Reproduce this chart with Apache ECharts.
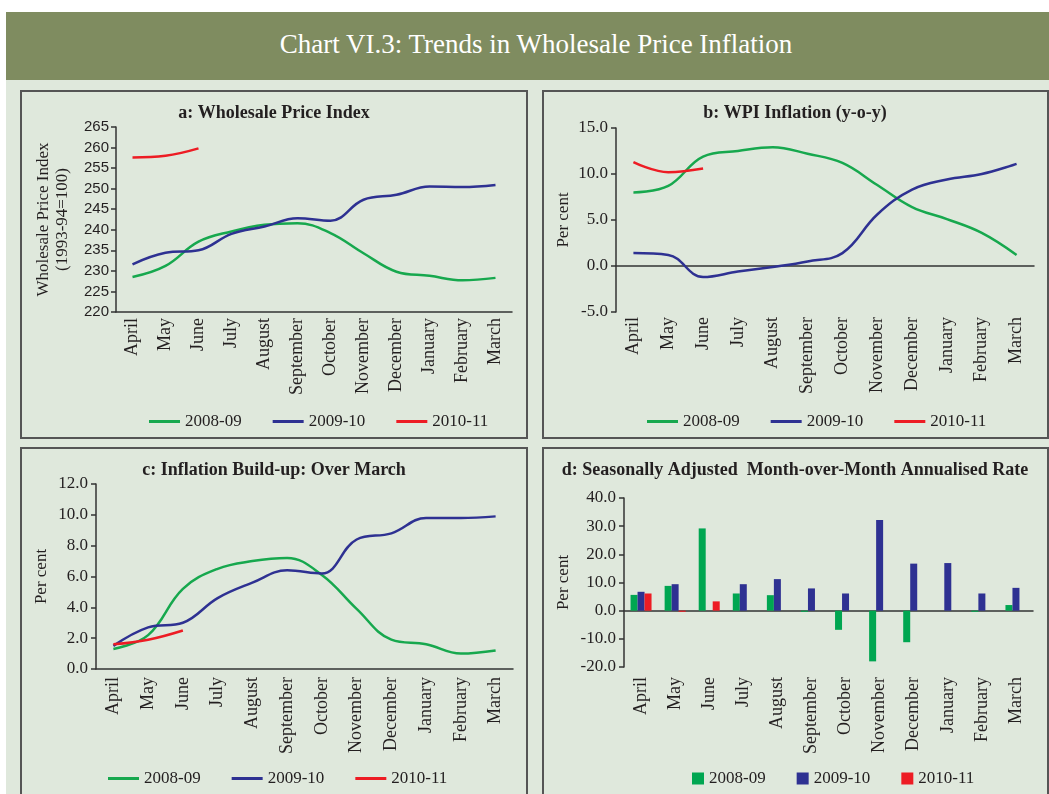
<!DOCTYPE html>
<html>
<head>
<meta charset="utf-8">
<script src="https://cdn.jsdelivr.net/npm/echarts@6/dist/echarts.min.js"></script>
<style>
  html, body { margin: 0; padding: 0; background: #fff; width: 1049px; height: 794px; overflow: hidden; }
  #bg { position: absolute; left: 6px; top: 80px; width: 1043px; height: 714px; background: #dfe8dc; }
  #head { position: absolute; left: 6px; top: 12px; width: 1043px; height: 68px; background: #7f8c60; }
  #head span { position: absolute; left: 0; width: 1060px; top: 17px; text-align: center; color: #fff;
    font: 27px "Liberation Serif", serif; }
  .panel { position: absolute; border: 2px solid #555; box-sizing: border-box; }
  #chart { position: absolute; left: 0; top: 0; width: 1049px; height: 794px; }
</style>
</head>
<body>
<div id="bg"></div>
<div id="head"><span>Chart VI.3: Trends in Wholesale Price Inflation</span></div>
<div class="panel" style="left:20px;top:90px;width:508px;height:349px"></div>
<div class="panel" style="left:542px;top:90px;width:507px;height:349px"></div>
<div class="panel" style="left:20px;top:447px;width:508px;height:360px"></div>
<div class="panel" style="left:542px;top:447px;width:507px;height:360px"></div>
<div id="chart"></div>

<script>
// data
const months = ['April', 'May', 'June', 'July', 'August', 'September', 'October',
  'November', 'December', 'January', 'February', 'March']
const years = ['2008-09', '2009-10', '2010-11']

// a: Wholesale Price Index (1993-94=100)
const wpi0809 = [228.5, 231.2, 237.1, 239.6, 241.2, 241.6, 239.2, 234.3, 229.8, 228.8, 227.7, 228.3]
const wpi0910 = [231.6, 234.4, 235.0, 239.0, 240.8, 242.8, 242.2, 247.3, 248.5, 250.5, 250.4, 250.9]
const wpi1011 = [257.6, 258.0, 259.8]

// b: WPI inflation y-o-y
const yoy0809 = [8.0, 8.7, 11.9, 12.5, 12.9, 12.2, 11.2, 8.8, 6.4, 5.1, 3.6, 1.2]
const yoy0910 = [1.4, 1.2, -1.2, -0.6, -0.1, 0.5, 1.4, 5.6, 8.3, 9.4, 10.0, 11.1]
const yoy1011 = [11.3, 10.2, 10.6]

// c: inflation build-up over March
const build0809 = [1.3, 2.2, 5.2, 6.5, 7.0, 7.2, 6.1, 3.9, 1.9, 1.6, 1.0, 1.2]
const build0910 = [1.5, 2.7, 3.0, 4.6, 5.6, 6.4, 6.2, 8.4, 8.8, 9.8, 9.8, 9.9]
const build1011 = [1.6, 1.9, 2.5]

// d: seasonally adjusted m-o-m annualised rate
const saar0809 = [5.6, 8.8, 29.2, 6.1, 5.5, -0.4, -6.8, -18.0, -11.2, 0, -0.4, 2.0]
const saar0910 = [6.7, 9.4, 0, 9.4, 11.2, 7.9, 6.1, 32.2, 16.7, 16.9, 6.1, 8.1]
const saar1011 = [6.1, -0.4, 3.3]

const lineColors = ['#17a84e', '#2e3192', '#ed1c24']
const barColors = ['#00a651', '#2e3192', '#ed1c24']
const serif = '"Liberation Serif", serif'
const ink = '#231f20'
const axisLineStyle = { color: '#333', width: 1.5 }

const monthLabel = margin => ({
  rotate: 90, margin, color: ink, fontFamily: serif, fontSize: 18
})

const catAxis = (gridIndex, opts) => Object.assign({
  type: 'category', gridIndex, data: months, position: 'bottom', boundaryGap: true,
  axisLine: { lineStyle: axisLineStyle },
  axisTick: { length: 5, lineStyle: axisLineStyle },
  splitLine: { show: false }
}, opts)

const valAxis = (gridIndex, min, max, interval, opts) => Object.assign({
  type: 'value', gridIndex, min, max, interval,
  axisLine: { show: true, lineStyle: axisLineStyle },
  axisTick: { show: true, length: 5, lineStyle: axisLineStyle },
  splitLine: { show: false },
  nameLocation: 'middle',
  nameRotate: 90,
  nameTextStyle: { color: ink, fontFamily: serif, fontSize: 17 },
  axisLabel: { color: ink, fontFamily: serif, fontSize: 17, margin: 8,
    formatter: v => v.toFixed(1) }
}, opts)

const lines = (xi, yi, datas) => datas.map((d, i) => ({
  name: years[i], type: 'line', xAxisIndex: xi, yAxisIndex: yi, data: d,
  symbol: 'none', smooth: 0.4,
  lineStyle: { width: 2.5, color: lineColors[i] },
  itemStyle: { color: lineColors[i] }
}))

const legend = (left, top, square) => ({
  left, top, selectedMode: false, itemGap: 31, icon: 'rect',
  itemWidth: square ? 12 : 31, itemHeight: square ? 12 : 3,
  textStyle: { color: ink, fontFamily: serif, fontSize: 17 },
  data: years.map((n, i) => ({ name: n, itemStyle: { color: square ? barColors[i] : lineColors[i] } }))
})

const title = (x, y, text) => ({
  type: 'text', x, y,
  style: { text, align: 'center', verticalAlign: 'middle', fill: ink,
    font: 'bold 18px "Liberation Serif", serif' }
})

const chart = echarts.init(document.getElementById('chart'))
chart.setOption({
  animation: false,
  grid: [
    { left: 116, top: 127, width: 396, height: 185 },
    { left: 616, top: 128, width: 418, height: 184 },
    { left: 96, top: 484, width: 417, height: 185 },
    { left: 624, top: 498, width: 409, height: 169 }
  ],
  xAxis: [
    catAxis(0, { axisLabel: monthLabel(6) }),
    catAxis(1, { axisLine: { onZero: true, lineStyle: axisLineStyle }, axisLabel: { show: false } }),
    catAxis(1, { axisLine: { show: false, onZero: false }, axisTick: { show: false }, axisLabel: monthLabel(5) }),
    catAxis(2, { axisLabel: monthLabel(8) }),
    catAxis(3, { axisLine: { onZero: true, lineStyle: axisLineStyle }, axisLabel: { show: false } }),
    catAxis(3, { axisLine: { show: false, onZero: false }, axisTick: { show: false }, axisLabel: monthLabel(10) })
  ],
  yAxis: [
    valAxis(0, 220, 265, 5, {
      name: 'Wholesale Price Index\n(1993-94=100)', nameGap: 44,
      nameTextStyle: { color: ink, fontFamily: serif, fontSize: 17, lineHeight: 19 },
      axisLabel: { color: ink, fontFamily: '"Liberation Sans", sans-serif', fontSize: 15, margin: 7 }
    }),
    valAxis(1, -5, 15, 5, { name: 'Per cent', nameGap: 44 }),
    valAxis(2, 0, 12, 2, { name: 'Per cent', nameGap: 46 }),
    valAxis(3, -20, 40, 10, { name: 'Per cent', nameGap: 52 })
  ],
  legend: [
    legend(144, 408, false),
    legend(642, 408, false),
    legend(103, 765, false),
    legend(687, 765, true)
  ],
  graphic: [
    title(274, 113, 'a: Wholesale Price Index'),
    title(795, 113, 'b: WPI Inflation (y-o-y)'),
    title(274, 470, 'c: Inflation Build-up: Over March'),
    title(795, 470, 'd: Seasonally Adjusted  Month-over-Month Annualised Rate')
  ],
  series: [
    ...lines(0, 0, [wpi0809, wpi0910, wpi1011]),
    ...lines(1, 1, [yoy0809, yoy0910, yoy1011]),
    ...lines(3, 2, [build0809, build0910, build1011]),
    ...[saar0809, saar0910, saar1011].map((d, i) => ({
      name: years[i], type: 'bar', xAxisIndex: 4, yAxisIndex: 3, data: d,
      barWidth: 7, barGap: '0%',
      itemStyle: { color: barColors[i] }
    }))
  ]
})
</script>
</body>
</html>
